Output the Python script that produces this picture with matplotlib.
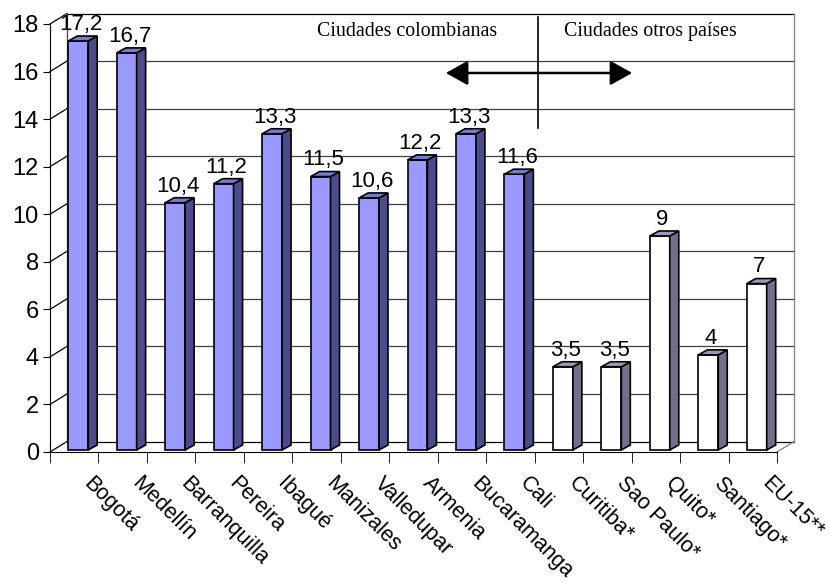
import matplotlib
matplotlib.use('Agg')
import matplotlib.pyplot as plt
from matplotlib.patches import Polygon
from matplotlib.transforms import ScaledTranslation

plt.rcParams['font.family'] = ['Liberation Sans', 'DejaVu Sans']

# datos
ciudades = ['Bogotá', 'Medellín', 'Barranquilla', 'Pereira', 'Ibagué', 'Manizales',
            'Valledupar', 'Armenia', 'Bucaramanga', 'Cali',
            'Curitiba*', 'Sao Paulo*', 'Quito*', 'Santiago*', 'EU-15**']
valores = [17.2, 16.7, 10.4, 11.2, 13.3, 11.5, 10.6, 12.2, 13.3, 11.6,
           3.5, 3.5, 9, 4, 7]
n_colombia = 10
yticks = list(range(0, 20, 2))

n = len(ciudades)
fig = plt.figure(figsize=(8.3, 5.83), dpi=100)
ax = fig.add_axes([50 / 830, 131 / 583, 727 / 830, 428 / 583])
ax.set_xlim(0, n)
ax.set_ylim(0, 18)

# pixel -> data units
ux = n / 727.0
uy = 18 / 428.0
ox, oy = 17 * ux, 10.5 * uy      # back wall offset
bx, by = 4 * ux, 2 * uy          # bar position inside the depth
dx, dy = 9 * ux, 5 * uy          # bar depth
w = 0.41

# back wall + floor
for g in yticks:
    col = 'black' if g in (0, 18) else '#404040'
    ax.plot([ox, n + ox], [g + oy, g + oy], color=col, lw=0.9, clip_on=False, zorder=1)
    ax.plot([0, ox], [g, g + oy], color='black', lw=0.9, clip_on=False, zorder=1)
ax.plot([ox, ox], [oy, 18 + oy], color='#404040', lw=0.9, clip_on=False, zorder=1)
ax.plot([n + ox, n + ox], [oy, 18 + oy], color='#808080', lw=0.9, clip_on=False, zorder=1)
ax.plot([n, n + ox], [0, oy], color='#808080', lw=0.9, clip_on=False, zorder=1)

# bars
for i, v in enumerate(valores):
    if i < n_colombia:
        front, side, top = '#9999FF', '#4C4C8C', '#7A7ACC'
    else:
        front, side, top = 'white', '#70708A', '#9A9AB8'
    xl = i + 0.5 - w / 2 + bx
    xr = xl + w
    ax.bar(xl, v, width=w, bottom=by, align='edge', color=front,
           edgecolor='black', lw=1.2, zorder=3)
    ax.add_patch(Polygon([(xr, by), (xr + dx, by + dy), (xr + dx, v + by + dy), (xr, v + by)],
                         closed=True, facecolor=side, edgecolor='black', lw=1.2, zorder=3))
    ax.add_patch(Polygon([(xl, v + by), (xr, v + by), (xr + dx, v + by + dy), (xl + dx, v + by + dy)],
                         closed=True, facecolor=top, edgecolor='black', lw=1.2, zorder=3))
    etiqueta = f'{v:g}'.replace('.', ',')
    ax.annotate(etiqueta, (xl + w / 2, v + by), xytext=(2, 8), textcoords='offset points',
                ha='center', va='baseline', fontsize=16, zorder=5, annotation_clip=False)

# axes
for s in ['top', 'right']:
    ax.spines[s].set_visible(False)
ax.spines['left'].set_color('black')
ax.spines['bottom'].set_color('black')
ax.set_yticks(yticks)
ax.tick_params(axis='y', labelsize=17, length=5, pad=3)
ax.set_xticks([i + 0.5 for i in range(n)])
ax.set_xticklabels(ciudades, rotation=-45, ha='left', rotation_mode='anchor', fontsize=15.5)
ax.set_xticks(range(n + 1), minor=True)
ax.tick_params(axis='x', which='major', length=0, pad=15)
ax.tick_params(axis='x', which='minor', length=8)
off = ScaledTranslation(20 / 100, 0, fig.dpi_scale_trans)
for lbl in ax.get_xticklabels():
    lbl.set_transform(lbl.get_transform() + off)

# group annotation
ax.plot([10.07, 10.07], [13.62, 18.29], color='black', lw=1.2, clip_on=False, zorder=4)
ax.annotate('', xy=(8.11, 15.94), xytext=(12.07, 15.94),
            arrowprops=dict(arrowstyle='<|-|>,head_length=0.9,head_width=0.5',
                            mutation_scale=15, lw=1.8, color='black'), zorder=4)
ax.text(7.37, 17.7, 'Ciudades colombianas', family='Liberation Serif', fontsize=14.3,
        ha='center', va='center', zorder=4)
ax.text(12.38, 17.7, 'Ciudades otros países', family='Liberation Serif', fontsize=14.3,
        ha='center', va='center', zorder=4)

fig.savefig('out.png', dpi=100)
